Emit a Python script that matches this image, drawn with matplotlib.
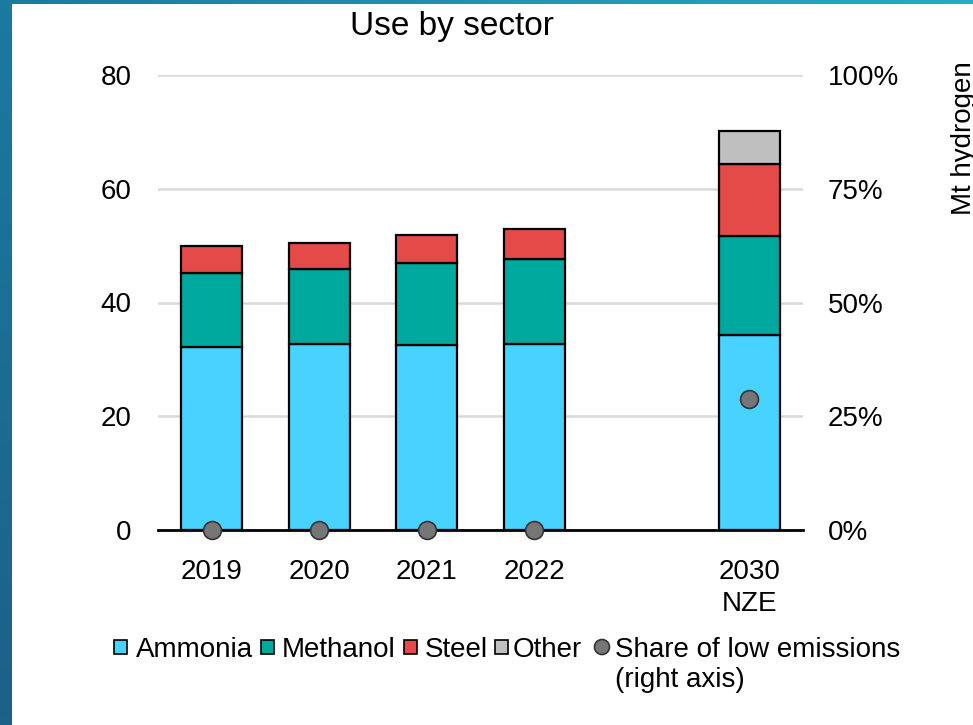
import numpy as np
import matplotlib
matplotlib.use("Agg")
import matplotlib.pyplot as plt
from matplotlib.patches import Rectangle, Circle
from matplotlib.colors import LinearSegmentedColormap

plt.rcParams["font.family"] = ["Liberation Sans", "DejaVu Sans"]

# Hydrogen demand by sector (Mt H2)
categories = ["2019", "2020", "2021", "2022", "2030\nNZE"]
positions = [0, 1, 2, 3, 5]
ammonia = [32.2, 32.7, 32.5, 32.7, 34.3]
methanol = [13.0, 13.2, 14.4, 15.0, 17.4]
steel = [4.7, 4.6, 5.0, 5.2, 12.7]
other = [0.0, 0.0, 0.0, 0.0, 5.8]
# Share of low-emissions hydrogen (%)
low_emission_share = [0.0, 0.0, 0.0, 0.0, 28.8]

series_names = ["Ammonia", "Methanol", "Steel", "Other"]
series_colors = ["#48d2ff", "#00a99d", "#e34a48", "#bfbfbf"]
share_label = ["Share of low emissions", "(right axis)"]
y_ticks = [0, 20, 40, 60, 80]
pct_ticks = [0, 25, 50, 75, 100]

W, H = 973, 725
fig = plt.figure(figsize=(W / 100, H / 100), dpi=100)

# Overlay axes in pixel units for the frame strips and the legend
bg = fig.add_axes([0, 0, 1, 1], zorder=-10)
bg.set_axis_off()
bg.set_xlim(0, W)
bg.set_ylim(H, 0)
left_cmap = LinearSegmentedColormap.from_list("l", ["#1a7aa0", "#1d6088"])
top_cmap = LinearSegmentedColormap.from_list("t", ["#1a7aa0", "#2aa8c8"])
bg.imshow(np.linspace(0, 1, 100).reshape(-1, 1), cmap=left_cmap, aspect="auto",
          extent=[0, 12, H, 0])
bg.imshow(np.linspace(0, 1, 100).reshape(1, -1), cmap=top_cmap, aspect="auto",
          extent=[0, W, 4, 0])

ax = fig.add_axes([158 / W, 1 - 530 / H, (803 - 158) / W, (530 - 75) / H])
ax.set_xlim(-0.5, 5.5)
ax.set_ylim(0, 80)

bottom = np.zeros(len(categories))
for vals, name, col in zip([ammonia, methanol, steel, other], series_names, series_colors):
    v = np.array(vals)
    mask = v > 0
    ax.bar(np.array(positions)[mask], v[mask], bottom=bottom[mask], width=0.57,
           color=col, edgecolor="black", linewidth=1.6, zorder=3, label=name)
    bottom += v

ax.set_yticks(y_ticks)
ax.set_yticklabels([str(t) for t in y_ticks])
ax.yaxis.grid(True, color="#d9d9d9", linewidth=1.8, zorder=0)
ax.set_xticks(positions)
ax.set_xticklabels(categories, linespacing=1.3)
ax.tick_params(axis="both", length=0, labelsize=20)
ax.tick_params(axis="x", pad=21)
ax.tick_params(axis="y", pad=19)
for s in ["left", "right", "top"]:
    ax.spines[s].set_visible(False)
ax.spines["bottom"].set_linewidth(2)
ax.spines["bottom"].set_zorder(4)

ax2 = ax.twinx()
ax2.set_ylim(0, 100)
ax2.scatter(positions, low_emission_share, s=165, color="#767676",
            edgecolor="#333333", linewidth=1.2, zorder=5, clip_on=False)
ax2.set_yticks(pct_ticks)
ax2.set_yticklabels([f"{t}%" for t in pct_ticks])
ax2.tick_params(axis="y", length=0, labelsize=20, pad=18)
for s in ["left", "right", "top", "bottom"]:
    ax2.spines[s].set_visible(False)

fig.text(452 / W, 1 - 27 / H, "Use by sector", ha="center", va="center", fontsize=24)
fig.text(964 / W, 1 - 138 / H, "Mt hydrogen", ha="center", va="center",
         rotation=90, fontsize=20)

# Legend drawn in pixel coordinates
base = 657
sq_x = [114, 261, 404, 495]
txt_x = [136, 282, 425, 513]
for x0, tx, name, col in zip(sq_x, txt_x, series_names, series_colors):
    bg.add_patch(Rectangle((x0, 640), 13, 14, facecolor=col, edgecolor="black",
                           linewidth=1.2))
    bg.text(tx, base, name, ha="left", va="baseline", fontsize=20)
bg.add_patch(Circle((602, 647), 7.5, facecolor="#767676", edgecolor="#333333",
                    linewidth=1.2))
bg.text(615, base, share_label[0], ha="left", va="baseline", fontsize=20)
bg.text(615, base + 30, share_label[1], ha="left", va="baseline", fontsize=20)

fig.savefig("out.png", dpi=100, facecolor="white")
